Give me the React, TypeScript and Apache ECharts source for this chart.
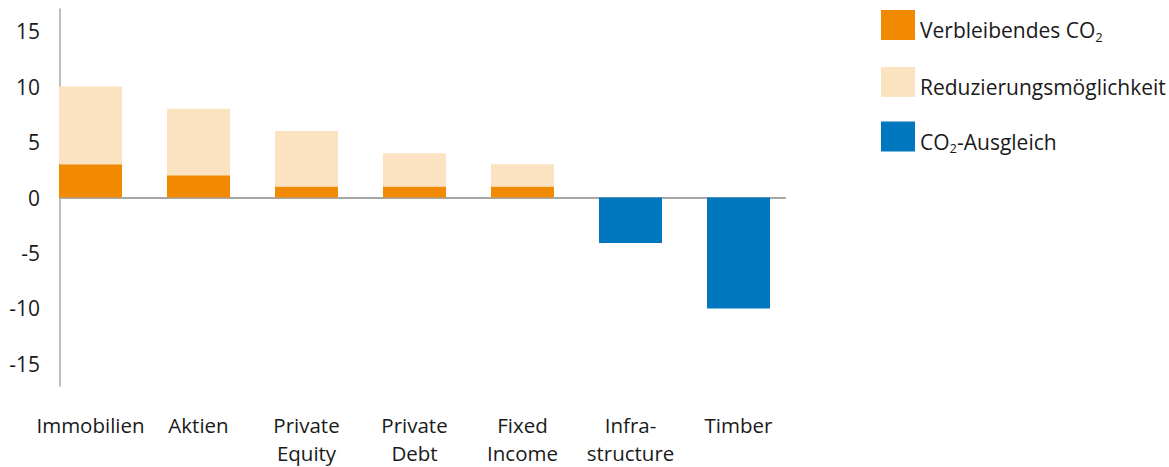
import React, { useEffect, useRef } from "react";
import * as echarts from "echarts";

const categories = [
  "Immobilien",
  "Aktien",
  "Private\nEquity",
  "Private\nDebt",
  "Fixed\nIncome",
  "Infra-\nstructure",
  "Timber",
];
const remainingCO2 = [3, 2, 1, 1, 1, null, null];
const reductionPotential = [7, 6, 5, 3, 2, null, null];
const compensation = [null, null, null, null, null, -4.1, -10];
const seriesNames = ["Verbleibendes CO2", "Reduzierungsmöglichkeit", "CO2-Ausgleich"];
const yMin = -17;
const yMax = 17;
const yLabelStep = 5;

const FONT = "Open Sans";
const TEXT = "#1a1a1a";
const AXIS = "#a6a6a6";

export default function App() {
  const ref = useRef<HTMLDivElement>(null);
  useEffect(() => {
    if (!ref.current) return;
    const chart = echarts.init(ref.current, undefined, { renderer: "svg" });
    const barBase = {
      type: "bar" as const,
      stack: "total",
      barWidth: 63,
      xAxisIndex: 0,
      yAxisIndex: 0,
    };
    chart.setOption({
      animation: false,
      textStyle: { fontFamily: FONT },
      grid: [
        // bars + category labels (band 108px, first centre 30.5px right of the y axis)
        { left: 36.5, top: 9, width: 756, height: 377, outerBoundsMode: "none", containLabel: false },
        // y axis + zero line
        { left: 60, top: 9, width: 725, height: 377, outerBoundsMode: "none", containLabel: false },
      ],
      legend: {
        orient: "vertical",
        left: 876,
        top: 5,
        itemWidth: 34,
        itemHeight: 30,
        itemGap: 24,
        icon: "rect",
        selectedMode: false,
        data: seriesNames,
        formatter: (name: string) => name.replace("CO2", "CO{sub|2}"),
        textStyle: {
          fontFamily: FONT,
          fontSize: 21,
          color: TEXT,
          padding: [10, 0, 0, 0],
          rich: {
            sub: {
              fontFamily: FONT,
              fontSize: 13,
              color: TEXT,
              padding: [13, 0, 0, 0],
            },
          },
        },
      },
      xAxis: [
        {
          type: "category",
          gridIndex: 0,
          data: categories,
          axisLine: { show: false, onZero: false },
          axisTick: { show: false },
          splitLine: { show: false },
          axisLabel: {
            interval: 0,
            margin: 25,
            fontFamily: FONT,
            fontSize: 20.5,
            lineHeight: 28,
            color: TEXT,
          },
        },
        {
          type: "value",
          gridIndex: 1,
          min: 0,
          max: 1,
          axisLine: { show: true, onZero: true, lineStyle: { color: AXIS, width: 2 } },
          axisTick: { show: false },
          splitLine: { show: false },
          axisLabel: { show: false },
        },
      ],
      yAxis: [
        {
          type: "value",
          gridIndex: 0,
          min: yMin,
          max: yMax,
          show: false,
        },
        {
          type: "value",
          gridIndex: 1,
          min: yMin,
          max: yMax,
          interval: 1,
          axisLine: { show: true, onZero: false, lineStyle: { color: AXIS, width: 1.5 } },
          axisTick: { show: false },
          splitLine: { show: false },
          axisLabel: {
            margin: 20,
            fontFamily: FONT,
            fontSize: 21,
            color: TEXT,
            formatter: (v: number) => (v % yLabelStep === 0 ? String(v) : ""),
          },
        },
      ],
      series: [
        {
          ...barBase,
          name: seriesNames[0],
          data: remainingCO2,
          itemStyle: { color: "#f18a00" },
        },
        {
          ...barBase,
          name: seriesNames[1],
          data: reductionPotential,
          itemStyle: { color: "#fbe2c0" },
        },
        {
          ...barBase,
          name: seriesNames[2],
          data: compensation,
          itemStyle: { color: "#0077bf" },
        },
      ],
    });
    return () => chart.dispose();
  }, []);
  return (
    <div
      ref={ref}
      style={{ position: "fixed", left: 0, top: 0, width: 1169, height: 467, background: "#fff" }}
    />
  );
}
